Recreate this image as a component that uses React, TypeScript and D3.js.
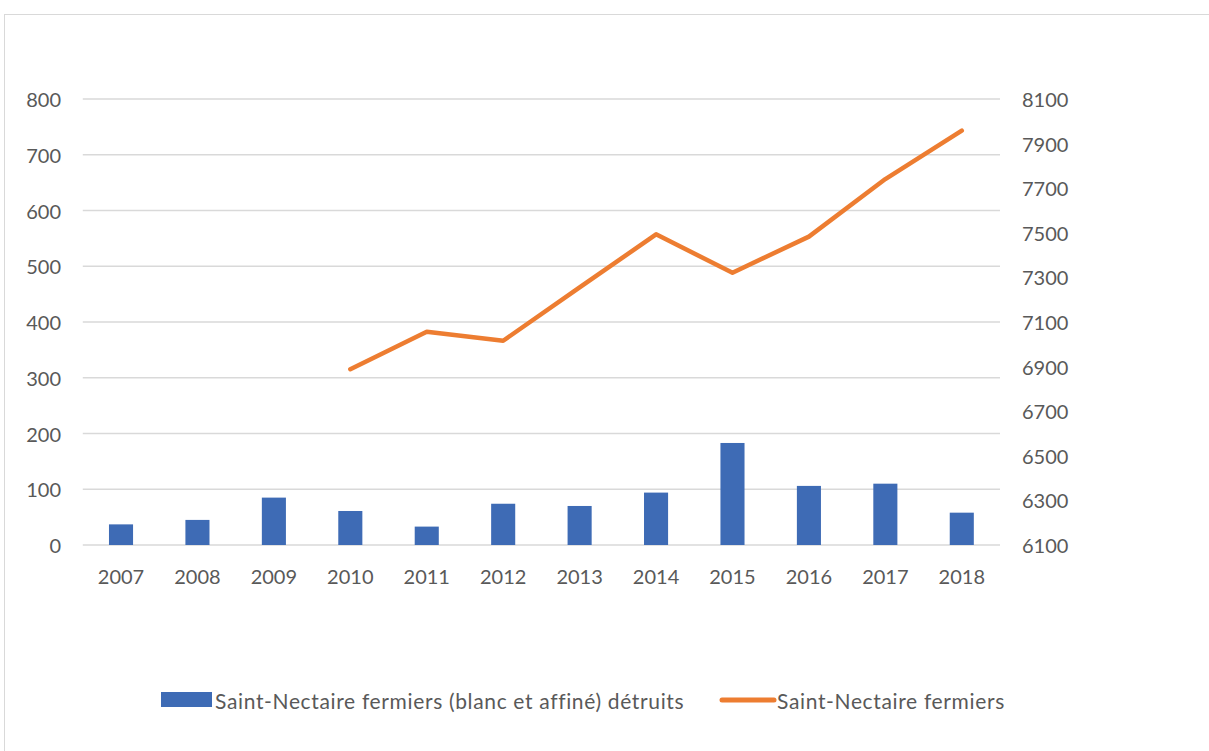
import React from "react";
import * as d3 from "d3";

const years = ["2007","2008","2009","2010","2011","2012","2013","2014","2015","2016","2017","2018"];
const destroyed = [37, 45, 85, 61, 33, 74, 70, 94, 183, 106, 110, 58];
const lineYears = ["2010","2011","2012","2013","2014","2015","2016","2017","2018"];
const fermiers = [6888, 7056, 7016, 7255, 7493, 7321, 7483, 7741, 7958];
const leftTicks = [0, 100, 200, 300, 400, 500, 600, 700, 800];
const rightTicks = [6100, 6300, 6500, 6700, 6900, 7100, 7300, 7500, 7700, 7900, 8100];
const barLabel = "Saint-Nectaire fermiers (blanc et affiné) détruits";
const lineLabel = "Saint-Nectaire fermiers";

const W = 1209, H = 751;
const plotL = 82.8, plotR = 1000, plotT = 99, plotB = 545;
const font = "Lato, 'Open Sans', sans-serif";
const textColor = "#595959";
const blue = "#3E6BB5";
const orange = "#ED7D31";

export default function App() {
  const x = d3.scaleBand<string>().domain(years).range([plotL, plotR]).paddingInner(0.685).paddingOuter(0.3425);
  const yL = d3.scaleLinear().domain([0, 800]).range([plotB, plotT]);
  const yR = d3.scaleLinear().domain([6100, 8100]).range([plotB, plotT]);
  const cx = (y: string) => (x(y) as number) + x.bandwidth() / 2;
  const line = d3.line<number>().x((_, i) => cx(lineYears[i])).y(d => yR(d));

  return (
    <svg width={W} height={H} style={{ position: "absolute", left: 0, top: 0, background: "#fff" }}>
      <rect x={0} y={0} width={W} height={H} fill="#fff" />
      <rect x={4.5} y={14.5} width={1230} height={780} fill="none" stroke="#d9d9d9" strokeWidth={1} />
      {leftTicks.map(t => (
        <line key={t} x1={plotL} x2={plotR} y1={yL(t)} y2={yL(t)} stroke="#d9d9d9" strokeWidth={1.3} />
      ))}
      {years.map((yr, i) => (
        <rect key={yr} x={x(yr)} y={yL(destroyed[i])} width={x.bandwidth()} height={yL(0) - yL(destroyed[i])} fill={blue} />
      ))}
      <path d={line(fermiers) || ""} fill="none" stroke={orange} strokeWidth={4.5} strokeLinecap="round" strokeLinejoin="round" />
      <g fontFamily={font} fontSize={20} fill={textColor}>
        {leftTicks.map(t => (
          <text key={t} x={61} y={yL(t)} textAnchor="end" dominantBaseline="central">{t}</text>
        ))}
        {rightTicks.map(t => (
          <text key={t} x={1022} y={yR(t)} textAnchor="start" dominantBaseline="central">{t}</text>
        ))}
        {years.map(yr => (
          <text key={yr} x={cx(yr)} y={576} textAnchor="middle" dominantBaseline="central">{yr}</text>
        ))}
      </g>
      <g fontFamily={font} fontSize={21} fill={textColor} letterSpacing={0.65}>
        <rect x={161} y={692} width={51} height={15} fill={blue} />
        <text x={215} y={700} dominantBaseline="central">{barLabel}</text>
        <line x1={722} x2={774} y1={700} y2={700} stroke={orange} strokeWidth={5} strokeLinecap="round" />
        <text x={777} y={700} dominantBaseline="central">{lineLabel}</text>
      </g>
    </svg>
  );
}
